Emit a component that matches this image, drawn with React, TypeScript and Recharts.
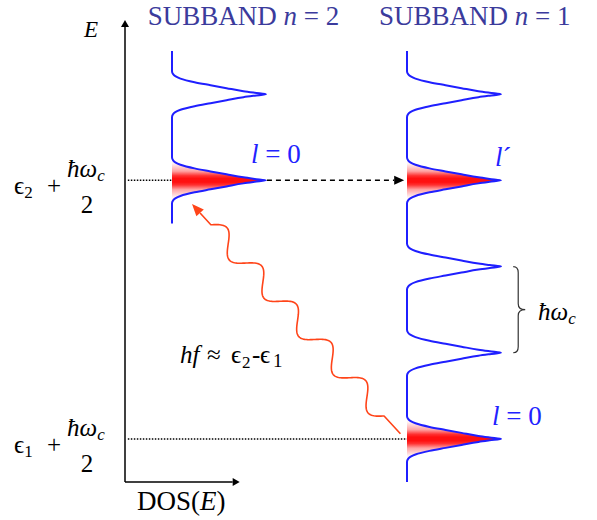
import React from 'react';
import {
  ComposedChart,
  XAxis, YAxis,
  Line, Area,
  ReferenceLine, ReferenceDot,
} from 'recharts';

// energy in units of ħω_c (E = 0 at the bottom axis), DOS in units of one peak height
const LEVELS_N1 = [0.5, 1.5, 2.5, 3.5, 4.5]; // ε1 + (l + 1/2)ħω_c, ε1 = 0
const LEVELS_N2 = [3.5, 4.5]; // ε2 + (l + 1/2)ħω_c, ε2 = 3ħω_c
const EDGE_N1 = 0;
const EDGE_N2 = 3;
const E_TOP = 5;
const BASE_N1 = 3; // horizontal offset of each subband's DOS curve
const BASE_N2 = 0.5;

// one broadened Landau level: distance from level, relative DOS
const PEAK_DE = [0, 0.017, 0.035, 0.07, 0.104, 0.139, 0.181, 0.209, 0.232, 0.267];
const PEAK_DOS = [1, 0.88, 0.76, 0.58, 0.41, 0.24, 0.09, 0.035, 0.012, 0];

// occupied levels drawn in red
const FILLED = [
  { key: 'occN2', base: BASE_N2, level: 3.5 },
  { key: 'occN1top', base: BASE_N1, level: 3.5 },
  { key: 'occN1bot', base: BASE_N1, level: 0.5 },
];

const BLUE = '#1f1fff';
const TITLE_BLUE = '#3b3b9c';
const LABEL_BLUE = '#2222ff';
const PHOTON = '#ff4419';
const FONT = "'Liberation Serif', 'Times New Roman', 'DejaVu Serif', serif";

const round = (v: number) => Math.round(v * 10000) / 10000;

function shapeAt(E: number, levels: number[]) {
  for (const l of levels) {
    const i = PEAK_DE.findIndex(d => Math.abs(Math.abs(E - l) - d) < 1e-3);
    if (i >= 0) return PEAK_DOS[i];
  }
  return 0;
}

const energySet = new Set<number>([EDGE_N1, EDGE_N2, E_TOP]);
LEVELS_N1.forEach(l => PEAK_DE.forEach(d => {
  energySet.add(round(l - d));
  energySet.add(round(l + d));
}));
const energies = [...energySet].sort((a, b) => a - b);

const rows = energies.map(E => {
  const row: Record<string, any> = { E };
  row.n1 = E >= EDGE_N1 && E <= E_TOP ? BASE_N1 + shapeAt(E, LEVELS_N1) : null;
  row.n2 = E >= EDGE_N2 && E <= E_TOP ? BASE_N2 + shapeAt(E, LEVELS_N2) : null;
  FILLED.forEach(f => {
    row[f.key] = Math.abs(E - f.level) <= 0.2671 ? [f.base, f.base + shapeAt(E, [f.level])] : null;
  });
  return row;
});

function arrowShape(color: string, width: number, head: number, half: number, dash?: string) {
  return (p: any) => {
    const { x1, y1, x2, y2 } = p;
    const len = Math.hypot(x2 - x1, y2 - y1) || 1;
    const ux = (x2 - x1) / len, uy = (y2 - y1) / len;
    const bx = x2 - ux * head, by = y2 - uy * head;
    return (
      <g>
        <line x1={x1} y1={y1} x2={bx} y2={by} stroke={color} strokeWidth={width} strokeDasharray={dash} />
        <polygon
          points={`${x2},${y2} ${bx - uy * half},${by + ux * half} ${bx + uy * half},${by - ux * half}`}
          fill={color}
        />
      </g>
    );
  };
}

function dottedShape(p: any) {
  return <line x1={p.x1} y1={p.y1} x2={p.x2} y2={p.y2} stroke="#000" strokeWidth={1.5} strokeDasharray="1.5 1.5" />;
}

// wavy photon: x1,y1 = lower end, x2,y2 = arrow tip
function photonShape(p: any) {
  const { x1, y1, x2, y2 } = p;
  const L = Math.hypot(x1 - x2, y1 - y2) || 1;
  const ux = (x1 - x2) / L, uy = (y1 - y2) / L;
  const nx = uy, ny = -ux;
  const head = 12, lead = 28, tail = 24, amp = 10;
  const waveLen = L - lead - tail;
  const periods = Math.max(1, Math.round(waveLen / 50));
  const P = waveLen / periods;
  const pts: string[] = [`${x2 + ux * head},${y2 + uy * head}`];
  for (let s = lead; s <= L - tail + 0.01; s += 1) {
    const off = amp * Math.sin((2 * Math.PI * (s - lead)) / P);
    pts.push(`${x2 + ux * s + nx * off},${y2 + uy * s + ny * off}`);
  }
  pts.push(`${x1},${y1}`);
  const bx = x2 + ux * head, by = y2 + uy * head;
  return (
    <g>
      <polyline points={pts.join(' ')} fill="none" stroke={PHOTON} strokeWidth={1.6} strokeLinejoin="round" />
      <polygon points={`${x2},${y2} ${bx + nx * 5},${by + ny * 5} ${bx - nx * 5},${by - ny * 5}`} fill={PHOTON} />
    </g>
  );
}

function braceShape(p: any) {
  const top = Math.min(p.y1, p.y2), bot = Math.max(p.y1, p.y2), mid = (top + bot) / 2;
  const x0 = p.x1, xv = x0 + 5, xt = x0 + 12;
  const d = `M${x0},${top} Q${xv},${top} ${xv},${top + 6} L${xv},${mid - 6} Q${xv},${mid} ${xt},${mid}`
    + ` Q${xv},${mid} ${xv},${mid + 6} L${xv},${bot - 6} Q${xv},${bot} ${x0},${bot}`;
  return <path d={d} fill="none" stroke="#333" strokeWidth={1.2} />;
}

function LevelLabel({ cx, cy, n }: { cx: number; cy: number; n: string }) {
  return (
    <g fontFamily={FONT} fill="#000">
      <text x={cx - 111} y={cy + 14} fontSize={25} fontFamily={FONT}>ϵ<tspan fontSize={17} dy={4}>{n}</tspan></text>
      <text x={cx - 78} y={cy + 14} fontSize={25} fontFamily={FONT}>+</text>
      <text x={cx - 58} y={cy - 3} fontSize={25} fontStyle="italic" fontFamily={FONT}>ħω<tspan fontSize={17} dy={4}>c</tspan></text>
      <text x={cx - 38} y={cy + 33} fontSize={25} textAnchor="middle" fontFamily={FONT}>2</text>
    </g>
  );
}

function Title({ cx, cy, n }: { cx: number; cy: number; n: string }) {
  return (
    <text x={cx} y={cy} textAnchor="middle" fontFamily={FONT} fontSize={27} fill={TITLE_BLUE}>
      SUBBAND <tspan fontStyle="italic">n</tspan> = {n}
    </text>
  );
}

function LevelTag({ x, y, text }: { x: number; y: number; text: string }) {
  return (
    <text x={x} y={y} fontFamily={FONT} fontSize={27} fill={LABEL_BLUE}>
      <tspan fontStyle="italic">l</tspan>{text}
    </text>
  );
}

export default function App() {
  return (
    <div style={{ position: 'absolute', left: 0, top: 0, width: 597, height: 520, background: '#fff' }}>
      <ComposedChart
        width={597}
        height={520}
        data={rows}
        layout="vertical"
        margin={{ top: 8, right: 2, bottom: 38, left: 125 }}
      >
        <defs>
          <linearGradient id="occupied" x1="0" y1="0" x2="0" y2="1">
            <stop offset="0" stopColor="#ff1a1a" stopOpacity={0} />
            <stop offset="0.13" stopColor="#ff1a1a" stopOpacity={0.05} />
            <stop offset="0.3" stopColor="#ff1a1a" stopOpacity={0.4} />
            <stop offset="0.4" stopColor="#ff1a1a" stopOpacity={0.9} />
            <stop offset="0.46" stopColor="#ff1010" stopOpacity={1} />
            <stop offset="0.54" stopColor="#ff1010" stopOpacity={1} />
            <stop offset="0.6" stopColor="#ff1a1a" stopOpacity={0.9} />
            <stop offset="0.7" stopColor="#ff1a1a" stopOpacity={0.4} />
            <stop offset="0.87" stopColor="#ff1a1a" stopOpacity={0.05} />
            <stop offset="1" stopColor="#ff1a1a" stopOpacity={0} />
          </linearGradient>
        </defs>
        <XAxis type="number" domain={[0, 5]} hide />
        <YAxis type="number" dataKey="E" domain={[0, 5.5]} reversed hide />

        {FILLED.map(f => (
          <Area
            key={f.key}
            dataKey={f.key}
            type="monotone"
            stroke="none"
            fill="url(#occupied)"
            fillOpacity={1}
            isAnimationActive={false}
          />
        ))}
        <Line dataKey="n2" type="monotone" stroke={BLUE} strokeWidth={2} dot={false} activeDot={false} isAnimationActive={false} />
        <Line dataKey="n1" type="monotone" stroke={BLUE} strokeWidth={2} dot={false} activeDot={false} isAnimationActive={false} />

        {/* axes */}
        <ReferenceLine segment={[{ x: 0, y: 0 }, { x: 0, y: 5.361 }]} shape={arrowShape('#000', 1.5, 7, 4)} />
        <ReferenceLine segment={[{ x: 0, y: 0 }, { x: 1.22, y: 0 }]} shape={arrowShape('#000', 1.5, 7, 4)} />

        {/* level markers and transitions */}
        <ReferenceLine segment={[{ x: 0.03, y: 3.5 }, { x: BASE_N2, y: 3.5 }]} shape={dottedShape} />
        <ReferenceLine segment={[{ x: 0.03, y: 0.5 }, { x: BASE_N1, y: 0.5 }]} shape={dottedShape} />
        <ReferenceLine
          segment={[{ x: BASE_N2 + 1.01, y: 3.5 }, { x: BASE_N1 - 0.03, y: 3.5 }]}
          shape={arrowShape('#000', 1.5, 10, 4.5, '5 4')}
        />
        <ReferenceLine segment={[{ x: 2.93, y: 0.56 }, { x: 0.713, y: 3.225 }]} shape={photonShape} />
        <ReferenceLine segment={[{ x: 4.13, y: 2.5 }, { x: 4.13, y: 1.5 }]} shape={braceShape} />

        {/* text */}
        <ReferenceDot x={0} y={5.361} r={0} ifOverflow="visible" shape={(p: any) => (
          <text x={p.cx - 27} y={p.cy + 17} textAnchor="end" fontFamily={FONT} fontSize={23} fontStyle="italic">E</text>
        )} />
        <ReferenceDot x={0} y={0} r={0} ifOverflow="visible" shape={(p: any) => (
          <text x={p.cx + 12} y={p.cy + 28} fontFamily={FONT} fontSize={27}>DOS(<tspan fontStyle="italic">E</tspan>)</text>
        )} />
        <ReferenceDot x={1.26} y={5.303} r={0} ifOverflow="visible" shape={(p: any) => <Title cx={p.cx} cy={p.cy} n="2" />} />
        <ReferenceDot x={3.72} y={5.303} r={0} ifOverflow="visible" shape={(p: any) => <Title cx={p.cx} cy={p.cy} n="1" />} />
        <ReferenceDot x={0} y={3.5} r={0} ifOverflow="visible" shape={(p: any) => <LevelLabel cx={p.cx} cy={p.cy} n="2" />} />
        <ReferenceDot x={0} y={0.5} r={0} ifOverflow="visible" shape={(p: any) => <LevelLabel cx={p.cx} cy={p.cy} n="1" />} />
        <ReferenceDot x={BASE_N2 + 1} y={3.5} r={0} ifOverflow="visible" shape={(p: any) => (
          <LevelTag x={p.cx - 15} y={p.cy - 17} text=" = 0" />
        )} />
        <ReferenceDot x={BASE_N1 + 1} y={3.5} r={0} ifOverflow="visible" shape={(p: any) => (
          <LevelTag x={p.cx - 6} y={p.cy - 14} text="´" />
        )} />
        <ReferenceDot x={BASE_N1 + 1} y={0.5} r={0} ifOverflow="visible" shape={(p: any) => (
          <LevelTag x={p.cx - 9} y={p.cy - 14} text=" = 0" />
        )} />
        <ReferenceDot x={0.585} y={1.381} r={0} ifOverflow="visible" shape={(p: any) => (
          <text x={p.cx} y={p.cy} fontFamily={FONT} fontSize={25} fill="#000">
            <tspan fontStyle="italic">hf</tspan>
            <tspan x={p.cx + 27}>≈</tspan>
            <tspan x={p.cx + 51}>ϵ</tspan>
            <tspan x={p.cx + 62} dy={5} fontSize={17}>2</tspan>
            <tspan x={p.cx + 72} dy={-5}>-</tspan>
            <tspan x={p.cx + 80}>ϵ</tspan>
            <tspan x={p.cx + 93} dy={4} fontSize={19}>1</tspan>
          </text>
        )} />
        <ReferenceDot x={4.394} y={1.88} r={0} ifOverflow="visible" shape={(p: any) => (
          <text x={p.cx} y={p.cy} fontFamily={FONT} fontSize={25} fontStyle="italic" fill="#000">
            ħω<tspan fontSize={17} dy={4}>c</tspan>
          </text>
        )} />
      </ComposedChart>
    </div>
  );
}
